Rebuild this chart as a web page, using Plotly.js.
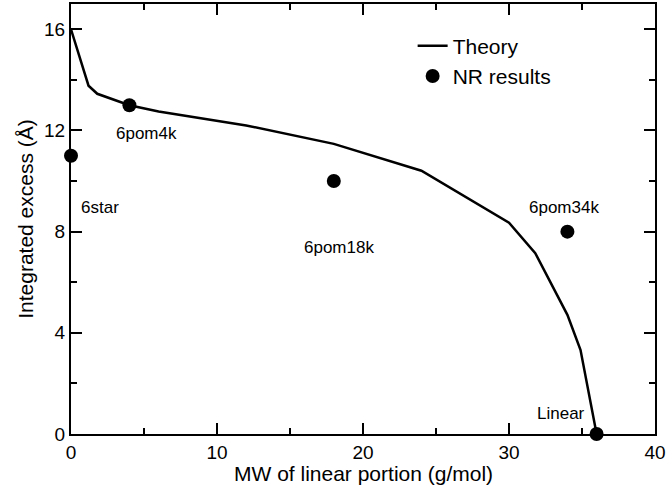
<!DOCTYPE html>
<html>
<head>
<meta charset="utf-8">
<script src="https://cdn.plot.ly/plotly-3.0.1.min.js"></script>
<style>html,body{margin:0;padding:0;background:#fff;}#chart{width:668px;height:487px;}</style>
</head>
<body>
<div id="chart"></div>
<script>
// Theory curve
var theoryX = [0, 1.2, 1.8, 4, 6, 12, 18, 24, 30, 31.8, 34, 34.9, 36];
var theoryY = [16, 13.77, 13.45, 13.0, 12.75, 12.2, 11.47, 10.41, 8.35, 7.15, 4.71, 3.32, 0];
// NR results
var nrX = [0, 4, 18, 34, 36];
var nrY = [11, 13, 10, 8, 0];
// Sample labels and their anchor positions (data units)
var sampleLabels = ["6star", "6pom4k", "6pom18k", "6pom34k", "Linear"];
var labelX = [2.0, 5.2, 18.36, 33.77, 33.56];
var labelY = [8.94, 11.9, 7.36, 8.94, 0.83];
var xTitle = 'MW of linear portion (g/mol)';
var yTitle = 'Integrated excess (Å)';

var font = "Liberation Sans, Arial, Helvetica, sans-serif";

var traces = [
  {x: theoryX, y: theoryY, type: 'scatter', mode: 'lines', name: 'Theory',
   line: {color: '#000', width: 2.5}},
  {x: nrX, y: nrY, type: 'scatter', mode: 'markers', name: 'NR results',
   marker: {color: '#000', size: 14}, cliponaxis: false}
];

var annotations = sampleLabels.map(function (t, i) {
  return {x: labelX[i], y: labelY[i], xref: 'x', yref: 'y', text: t, showarrow: false,
          font: {family: font, size: 17, color: '#000'}, xanchor: 'center', yanchor: 'middle'};
});
// x-axis title placed as paper annotation for exact vertical position
annotations.push({x: 0.5, y: -0.093, xref: 'paper', yref: 'paper', text: xTitle, showarrow: false,
  font: {family: font, size: 21, color: '#000'}, xanchor: 'center', yanchor: 'middle'});

var axisCommon = {
  showgrid: false, zeroline: false, showline: true, linecolor: '#000', linewidth: 2,
  mirror: 'allticks', ticks: 'inside', ticklen: 11, tickwidth: 2, tickcolor: '#000',
  tickfont: {family: font, size: 19, color: '#000'}
};

var layout = {
  width: 668, height: 487,
  margin: {l: 71, r: 13, t: 4, b: 53},
  paper_bgcolor: '#fff', plot_bgcolor: '#fff',
  font: {family: font, color: '#000'},
  xaxis: Object.assign({}, axisCommon, {
    range: [0, 40], dtick: 10, tick0: 0,
    minor: {dtick: 5, ticks: 'inside', ticklen: 6, tickwidth: 2, tickcolor: '#000'}
  }),
  yaxis: Object.assign({}, axisCommon, {
    range: [0, 17], dtick: 4, tick0: 0,
    minor: {dtick: 2, ticks: 'inside', ticklen: 6, tickwidth: 2, tickcolor: '#000'},
    title: {text: yTitle, font: {family: font, size: 21, color: '#000'}, standoff: 5}
  }),
  showlegend: true,
  legend: {x: 0.585, y: 0.95, xanchor: 'left', yanchor: 'top', bgcolor: 'rgba(0,0,0,0)',
           font: {family: font, size: 21, color: '#000'}, tracegroupgap: 0},
  annotations: annotations
};

Plotly.newPlot('chart', traces, layout, {displayModeBar: false, staticPlot: true});
</script>
</body>
</html>
